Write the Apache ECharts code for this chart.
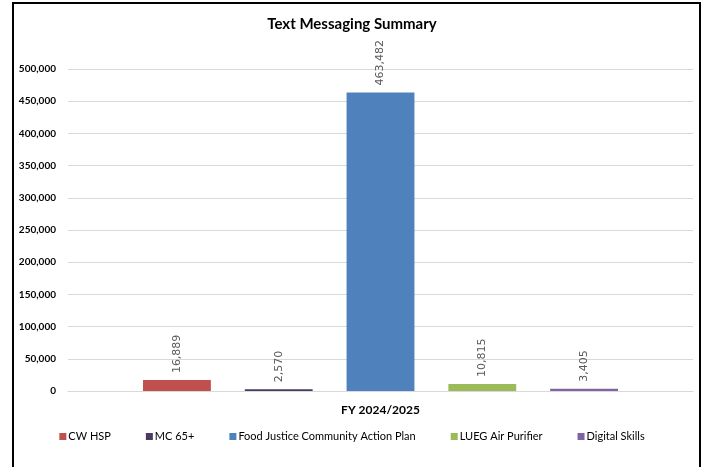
<!DOCTYPE html>
<html>
<head>
<meta charset="utf-8">
<script src="https://cdn.jsdelivr.net/npm/echarts@6/dist/echarts.min.js"></script>
<style>
  html, body { margin: 0; padding: 0; background: #fff; }
  #chart { width: 704px; height: 467px; }
</style>
</head>
<body>
<div id="chart"></div>
<script>
// chart data
const categories = ['FY 2024/2025']
const seriesNames = ['CW HSP', 'MC 65+', 'Food Justice Community Action Plan', 'LUEG Air Purifier', 'Digital Skills']
const seriesValues = [[16889], [2570], [463482], [10815], [3405]]
const seriesColors = ['#c0504d', '#4b3a62', '#4f81bd', '#9bbb59', '#8064a2']

const fmt = v => Number(v).toLocaleString('en-US')

let myChart = echarts.init(document.getElementById('chart'))
myChart.setOption({
  animation: false,
  textStyle: { fontFamily: 'Lato' },
  title: {
    text: 'Text Messaging Summary',
    left: 'center',
    top: 12,
    textStyle: { fontSize: 15, fontWeight: 'bold', color: '#000', fontFamily: 'Lato' }
  },
  graphic: [{
    type: 'rect',
    shape: { x: 13, y: 3, width: 687, height: 475 },
    style: { fill: null, stroke: '#000', lineWidth: 2 },
    silent: true
  }],
  legend: {
    bottom: 20,
    left: 'center',
    itemWidth: 7,
    itemHeight: 7,
    itemGap: 35,
    icon: 'rect',
    textStyle: { fontSize: 11, color: '#000', padding: [0, 0, 0, -3] },
    data: seriesNames
  },
  grid: {
    top: 69,
    left: 68,
    right: 11,
    bottom: 76
  },
  xAxis: {
    type: 'category',
    data: categories,
    axisTick: { show: false },
    axisLine: { lineStyle: { color: '#d9d9d9' } },
    axisLabel: { color: '#000', fontWeight: 'bold', fontSize: 12, margin: 13 }
  },
  yAxis: {
    type: 'value',
    min: 0,
    max: 500000,
    interval: 50000,
    axisLine: { show: false },
    axisTick: { show: false },
    splitLine: { lineStyle: { color: '#d9d9d9' } },
    axisLabel: {
      color: '#000',
      fontWeight: 'bold',
      fontSize: 10,
      margin: 12,
      formatter: fmt
    }
  },
  series: seriesNames.map((name, i) => ({
    name: name,
    type: 'bar',
    data: seriesValues[i],
    color: seriesColors[i],
    barGap: '50%',
    barCategoryGap: '24%',
    label: {
      show: true,
      position: 'top',
      rotate: 90,
      align: 'left',
      verticalAlign: 'middle',
      distance: 7,
      color: '#595959',
      fontSize: 11,
      fontFamily: 'DejaVu Sans',
      formatter: p => fmt(p.value)
    }
  }))
})
myChart.resize()
</script>
</body>
</html>
